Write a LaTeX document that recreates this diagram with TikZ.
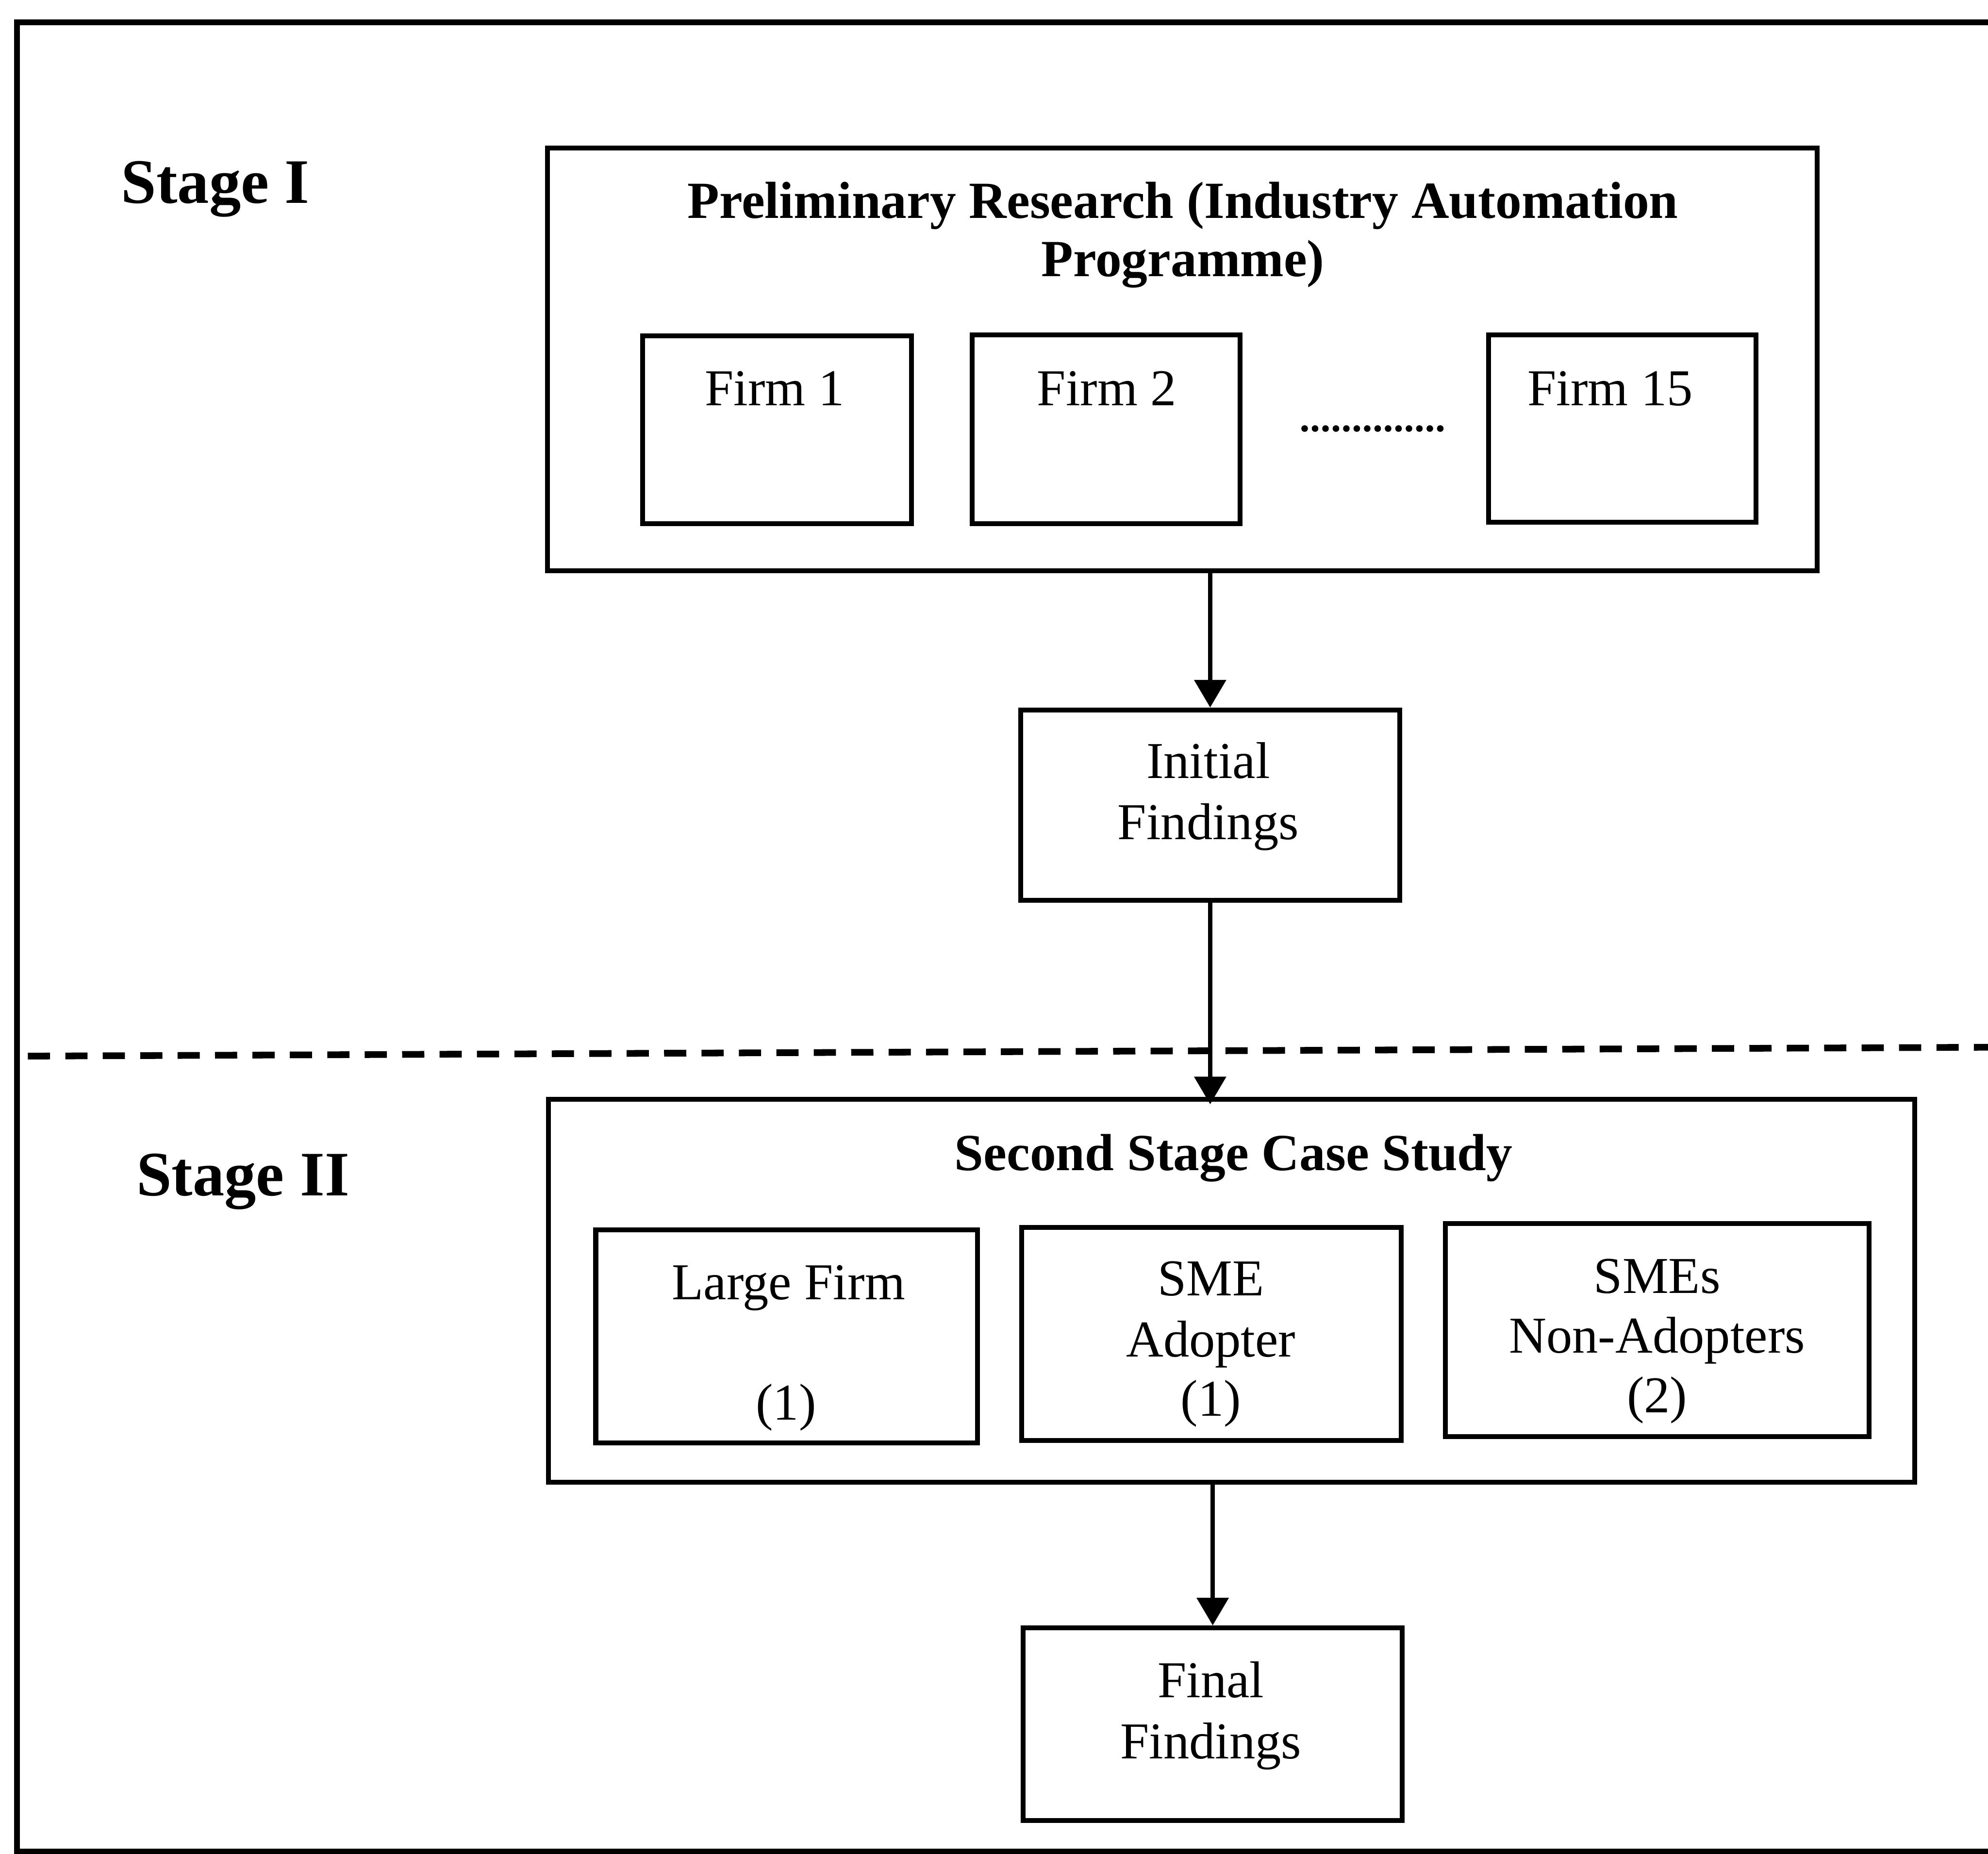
\documentclass[tikz,border=0pt]{standalone}
\usepackage{fontspec}
\setmainfont{Liberation Serif}
\usetikzlibrary{arrows.meta}
\tikzset{
  boxed/.style={draw, line width=1.1pt, inner sep=0pt},
  body/.style={font=\fontsize{11.6}{13.6}\selectfont, anchor=base, inner sep=0pt},
  heading/.style={font=\bfseries\fontsize{11.7}{13.4}\selectfont, anchor=base, inner sep=0pt},
  stagelabel/.style={font=\bfseries\fontsize{14.2}{17}\selectfont, anchor=base west, inner sep=0pt},
  flow/.style={line width=0.95pt, -{Triangle[width=0.247cm,length=0.218cm]}},
  divider/.style={line width=1.5pt, dash pattern=on 0.175cm off 0.12cm},
  frameline/.style={line width=1.3pt},
}
\begin{document}
\begin{tikzpicture}[x=0.01cm, y=-0.01cm]
\useasboundingbox (0,0) rectangle (1568,1462);
\clip (0,0) rectangle (1568,1462);

% outer frame (runs past the right and bottom edges)
\coordinate (fr1) at (1600,17.5);
\coordinate (fr2) at (13.5,17.5);
\coordinate (fr3) at (13.5,1460.5);
\coordinate (fr4) at (1600,1460.5);
\draw[frameline] (fr1) -- (fr2) -- (fr3) -- (fr4);

% stage labels
\node[stagelabel] (stage1) at (95,160) {Stage I};
\node[stagelabel] (stage2) at (107,943) {Stage II};

% stage I: preliminary research
\node[boxed, minimum width=10.01cm, minimum height=3.33cm] (prelim) at (932.5,283.5) {};
\node[heading] (ttl1) at (933,172) {Preliminary Research (Industry Automation};
\node[heading] (ttl2) at (933,218) {Programme)};

\node[boxed, minimum width=2.12cm, minimum height=1.48cm] (f1) at (613,339) {};
\node[boxed, minimum width=2.11cm, minimum height=1.49cm] (f2) at (872.5,338.5) {};
\node[boxed, minimum width=2.11cm, minimum height=1.48cm] (f15) at (1279.5,338) {};
\node[body] (f1t) at (611,320) {Firm 1};
\node[body] (f2t) at (873,320) {Firm 2};
\node[body] (f15t) at (1270,320) {Firm 15};
\foreach \i in {0,...,13} \fill (1029+\i*8.23,338) circle[radius=0.026cm];

\node[boxed, minimum width=2.99cm, minimum height=1.50cm] (init) at (954.5,635) {};
\node[body] (init1) at (953,614) {Initial};
\node[body] (init2) at (953,662) {Findings};

% boundary between the two stages
\coordinate (dl) at (22,833);
\coordinate (dr) at (1568,826);
\draw[divider] (dl) -- (dr);

% stage II: second stage case study
\node[boxed, minimum width=10.77cm, minimum height=3.02cm] (second) at (971.5,1018) {};
\node[heading] (ttl3) at (973,923) {Second Stage Case Study};

\node[boxed, minimum width=3.01cm, minimum height=1.68cm] (large) at (620.5,1054) {};
\node[boxed, minimum width=2.99cm, minimum height=1.68cm] (smea) at (955.5,1052) {};
\node[boxed, minimum width=3.34cm, minimum height=1.68cm] (smen) at (1307,1049) {};
\node[body] (large1) at (622,1025) {Large Firm};
\node[body] (large2) at (620,1120) {(1)};
\node[body] (smea1) at (955,1022) {SME};
\node[body] (smea2) at (955,1070) {Adopter};
\node[body] (smea3) at (955,1117) {(1)};
\node[body] (smen1) at (1307,1020) {SMEs};
\node[body] (smen2) at (1307,1067) {Non-Adopters};
\node[body] (smen3) at (1307,1114) {(2)};

\node[boxed, minimum width=2.99cm, minimum height=1.52cm] (final) at (956.5,1360) {};
\node[body] (final1) at (955,1339) {Final};
\node[body] (final2) at (955,1387) {Findings};

% flow arrows
\draw[flow] (init.north |- prelim.south) -- (init.north);
\draw[flow] (init.south) -- ([yshift=-0.06cm]init.south |- second.north);
\draw[flow] (final.north |- second.south) -- (final.north);
\end{tikzpicture}
\end{document}
